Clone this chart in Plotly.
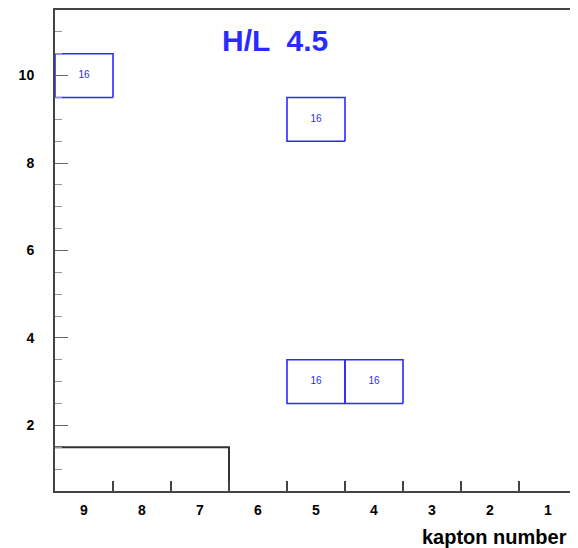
import plotly.graph_objects as go

# Data: occupied cells (kapton number, row) and their counts
cell_kapton = [9, 5, 5, 4]
cell_row = [10, 9, 3, 3]
cell_count = [16, 16, 16, 16]

# Outline band spanning kaptons 7..9 at row 1
band_kaptons = [7, 8, 9]
band_row = 1

x_ticks = [1, 2, 3, 4, 5, 6, 7, 8, 9]
x_tick_labels = ["1", "2", "3", "4", "5", "6", "7", "8", "9"]
y_ticks = [2, 4, 6, 8, 10]

title_text = "H/L  4.5"
x_title = "kapton number"

BLUE = "#2a2aff"
FONT = "Liberation Sans"

fig = go.Figure()

# blue cell boxes
for k, r in zip(cell_kapton, cell_row):
    xs = [k - 0.5, k + 0.5, k + 0.5, k - 0.5, k - 0.5]
    ys = [r - 0.5, r - 0.5, r + 0.5, r + 0.5, r - 0.5]
    fig.add_trace(go.Scatter(x=xs, y=ys, mode="lines",
                             line=dict(color=BLUE, width=1.6),
                             hoverinfo="skip", showlegend=False))

fig.add_trace(go.Scatter(x=cell_kapton, y=cell_row, mode="text",
                         text=[str(c) for c in cell_count],
                         textfont=dict(family=FONT, size=10, color=BLUE),
                         showlegend=False))

# black outline band
lo = min(band_kaptons) - 0.5
hi = max(band_kaptons) + 0.5
fig.add_trace(go.Scatter(x=[hi, lo, lo], y=[band_row + 0.5, band_row + 0.5, band_row - 0.5],
                         mode="lines", line=dict(color="#333333", width=2),
                         hoverinfo="skip", showlegend=False))

# page body adds an 8px offset, so the figure is sized/margined to compensate
fig.update_layout(
    width=570, height=540,
    margin=dict(l=47, r=1, t=2, b=57, autoexpand=False),
    paper_bgcolor="white", plot_bgcolor="white",
    showlegend=False,
    xaxis=dict(range=[9.5, 0.5], tickmode="array", tickvals=x_ticks,
               ticktext=x_tick_labels, ticks="", showgrid=False, zeroline=False,
               automargin=False,
               showline=True, linecolor="#444444", linewidth=2, mirror=True,
               tickfont=dict(family=FONT, size=14, color="black", weight="bold"),
               ticklabelstandoff=5,
               minor=dict(tickmode="array", tickvals=[k + 0.5 for k in x_ticks[:-1]],
                          ticks="inside", ticklen=10, tickwidth=2,
                          tickcolor="#444444", showgrid=False)),
    yaxis=dict(range=[0.5, 11.5], tickmode="array", tickvals=y_ticks,
               ticks="inside", ticklen=13, tickwidth=1, tickcolor="#666666",
               showgrid=False, zeroline=False, automargin=False,
               showline=True, linecolor="#444444", linewidth=2, mirror=True,
               tickfont=dict(family=FONT, size=14, color="black", weight="bold"),
               ticklabelstandoff=16,
               minor=dict(tickmode="linear", tick0=0.5, dtick=0.5,
                          ticks="inside", ticklen=7, tickwidth=1,
                          tickcolor="#999999", showgrid=False)),
)

fig.add_annotation(text=title_text, xref="paper", yref="paper",
                   x=0.4215, y=0.9356, xanchor="center", yanchor="middle",
                   showarrow=False,
                   font=dict(family=FONT, size=30, color=BLUE, weight="bold"))

fig.add_annotation(text=x_title, xref="paper", yref="paper",
                   x=(420 - 55) / 522, y=-0.0956, xanchor="left", yanchor="middle",
                   showarrow=False,
                   font=dict(family=FONT, size=20, color="black", weight="bold"))

fig.write_html("out.html")
